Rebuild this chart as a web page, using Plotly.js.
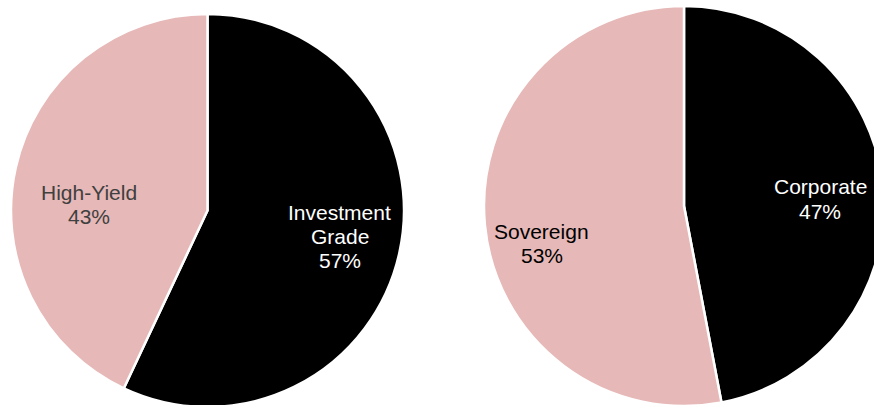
<!DOCTYPE html>
<html>
<head>
<meta charset="utf-8">
<script src="https://cdn.plot.ly/plotly-3.0.1.min.js"></script>
<style>
html, body { margin: 0; padding: 0; overflow: hidden; background: #ffffff; }
#chart { width: 890px; height: 410px; }
</style>
</head>
<body>
<div id="chart"></div>
<script>
// Left pie: credit quality
const qualityLabels = ["Investment<br>Grade", "High-Yield"];
const qualityValues = [57, 43];
// Right pie: issuer type
const issuerLabels = ["Corporate", "Sovereign"];
const issuerValues = [47, 53];

const darkColor = "#000000";
const pinkColor = "#E6B8B7";
const FONT = "Arial, 'Liberation Sans', sans-serif";

const W = 890, H = 410;
function dom(x0, x1, y0, y1) {
  return { x: [x0 / W, x1 / W], y: [(H - y1) / H, (H - y0) / H] };
}

const common = {
  type: "pie",
  sort: false,
  direction: "clockwise",
  rotation: 0,
  textinfo: "none",
  hoverinfo: "none",
  showlegend: false,
  marker: { colors: [darkColor, pinkColor], line: { color: "#ffffff", width: 2.5 } }
};

const traces = [
  Object.assign({}, common, {
    labels: qualityLabels,
    values: qualityValues,
    domain: dom(11, 404, 14, 407)
  }),
  Object.assign({}, common, {
    labels: issuerLabels,
    values: issuerValues,
    domain: dom(484, 884, 6, 406)
  })
];

// label placement (pixel centre of first line) and colours per slice
const placements = [
  { labels: qualityLabels, values: qualityValues, pos: [[339.5, 211], [89, 191.5]], colors: ["#ffffff", "#404040"] },
  { labels: issuerLabels, values: issuerValues, pos: [[820, 186], [541.5, 230.5]], colors: ["#ffffff", "#000000"] }
];
const LINE = 24.3;
const annotations = [];
placements.forEach(p => {
  const total = p.values.reduce((a, b) => a + b, 0);
  p.labels.forEach((lab, i) => {
    const lines = lab.split("<br>").concat([Math.round(p.values[i] / total * 100) + "%"]);
    lines.forEach((ln, k) => {
      annotations.push({
        xref: "paper", yref: "paper",
        x: p.pos[i][0] / W,
        y: (H - (p.pos[i][1] + k * LINE + 1)) / H,
        xanchor: "center", yanchor: "middle",
        text: ln, showarrow: false,
        font: { family: FONT, size: 21, color: p.colors[i] }
      });
    });
  });
});

const layout = {
  width: W,
  height: H,
  margin: { l: 0, r: 0, t: 0, b: 0, pad: 0 },
  paper_bgcolor: "#ffffff",
  plot_bgcolor: "#ffffff",
  font: { family: FONT, size: 21 },
  annotations: annotations
};

Plotly.newPlot("chart", traces, layout, { staticPlot: true, displayModeBar: false });
</script>
</body>
</html>
